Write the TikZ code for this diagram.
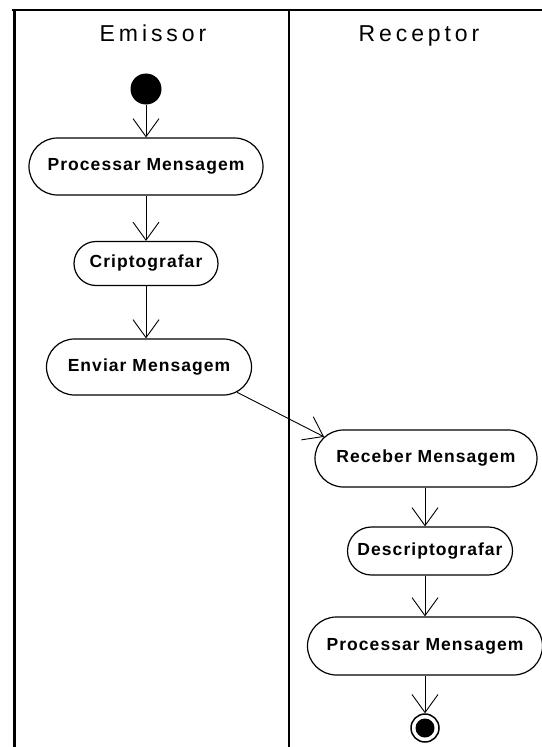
\documentclass[tikz,border=0pt]{standalone}
\usepackage{fontspec}
\setmainfont{Liberation Sans}
\newfontfamily\lanefont[LetterSpace=17]{Liberation Sans}
\newfontfamily\actfont[LetterSpace=6]{Liberation Sans}
\usetikzlibrary{arrows.meta,shapes.misc}

\tikzset{
  lane/.style={line width=2.4bp, line cap=rect},
  lanetitle/.style={anchor=base, inner sep=0, font=\lanefont\fontsize{23bp}{27bp}\selectfont},
  act/.style={rounded rectangle, draw, line width=1.2bp, inner sep=0,
    font=\actfont\bfseries\fontsize{17.5bp}{21bp}\selectfont},
  flow/.style={draw, line width=0.9bp,
    -{Straight Barb[length=18bp,width=26bp,line width=0.9bp]}},
  initial/.style={circle, fill=black, inner sep=0, minimum size=31bp},
  final/.style={circle, draw, line width=1.5bp, inner sep=0, minimum size=28bp,
    path picture={\fill (path picture bounding box.center) circle (9.5bp);}},
}

\begin{document}
\begin{tikzpicture}[x=1bp, y=-1bp]
\useasboundingbox (0,0) rectangle (542,747);

% swimlane frame
\draw[lane] (13,10) -- (542,10);
\draw[lane] (14.5,10) -- (14.5,747);
\draw[lane] (289,10) -- (289,747);

% lane titles
\node[lanetitle] (tEmissor)  at (153,42) {Emissor};
\node[lanetitle] (tReceptor) at (419,42) {Receptor};

% Emissor activities
\node[initial] (ini) at (146,89) {};
\node[act, minimum width=234bp, minimum height=57bp] (proc1) at (146,166.5) {Processar Mensagem};
\node[act, minimum width=144bp, minimum height=44bp] (cript) at (146,263.5) {Criptografar};
\node[act, minimum width=205bp, minimum height=56bp] (envia) at (149,367) {Enviar Mensagem};

% Receptor activities
\node[act, minimum width=222bp, minimum height=57bp] (receb) at (426,458.5) {Receber Mensagem};
\node[act, minimum width=165bp, minimum height=48bp] (decr) at (430,551) {Descriptografar};
\node[act, minimum width=235bp, minimum height=58bp] (proc2) at (425,646) {Processar Mensagem};
\node[final] (fim) at (425,728) {};

% control flow
\draw[flow] (ini.south) -- (ini.south |- proc1.north);
\draw[flow] (proc1.south) -- (proc1.south |- cript.north);
\draw[flow] (cript.south) -- (cript.south |- envia.north);
\draw[flow] (envia.-16) -- (receb.168);
\draw[flow] (receb.south -| fim.north) -- (fim.north |- decr.north);
\draw[flow] (decr.south -| fim.north) -- (fim.north |- proc2.north);
\draw[flow] (proc2.south -| fim.north) -- (fim.north);
\end{tikzpicture}
\end{document}
